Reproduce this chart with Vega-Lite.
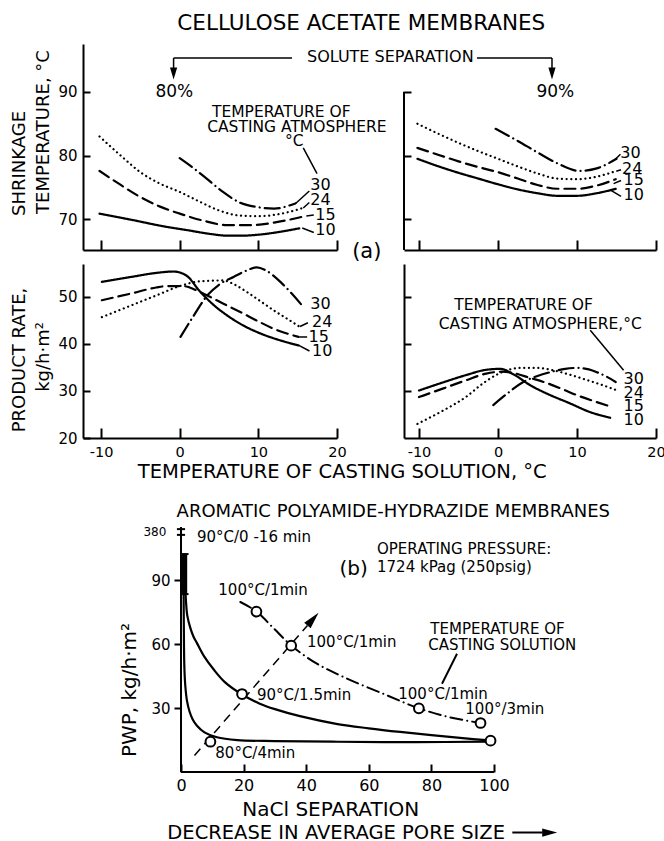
{
  "$schema": "https://vega.github.io/schema/vega-lite/v6.json",
  "background": "white",
  "padding": {"left": 11, "top": 12, "right": 0, "bottom": 0},
  "config": {
    "view": {"stroke": null},
    "font": "DejaVu Sans",
    "axis": {"grid": false, "domainColor": "black", "domainWidth": 2, "tickColor": "black", "tickWidth": 2, "labelColor": "black", "labelFont": "DejaVu Sans", "labelFontSize": 15, "labelFlush": false, "labelOverlap": false},
    "text": {"font": "DejaVu Sans", "color": "black"}
  },
  "datasets": {
    "sh80": [
      {"x": -10.2, "y": 70.9, "s": "10"}, {"x": -6, "y": 69.9, "s": "10"}, {"x": -2, "y": 68.9, "s": "10"}, {"x": 1, "y": 68.3, "s": "10"}, {"x": 4, "y": 67.7, "s": "10"}, {"x": 6, "y": 67.45, "s": "10"}, {"x": 8, "y": 67.45, "s": "10"}, {"x": 10, "y": 67.6, "s": "10"}, {"x": 12.5, "y": 68.0, "s": "10"}, {"x": 15.2, "y": 68.6, "s": "10"},
      {"x": -10.2, "y": 77.6, "s": "15"}, {"x": -7.5, "y": 75.4, "s": "15"}, {"x": -5, "y": 73.5, "s": "15"}, {"x": -2.5, "y": 72.0, "s": "15"}, {"x": 0, "y": 70.9, "s": "15"}, {"x": 3, "y": 69.8, "s": "15"}, {"x": 6, "y": 69.1, "s": "15"}, {"x": 9, "y": 69.1, "s": "15"}, {"x": 12, "y": 69.5, "s": "15"}, {"x": 14.5, "y": 70.1, "s": "15"}, {"x": 15.9, "y": 70.5, "s": "15"},
      {"x": -10.2, "y": 83.0, "s": "24"}, {"x": -7.5, "y": 80.0, "s": "24"}, {"x": -5, "y": 77.4, "s": "24"}, {"x": -2.5, "y": 75.6, "s": "24"}, {"x": 0, "y": 74.3, "s": "24"}, {"x": 2.5, "y": 72.8, "s": "24"}, {"x": 5, "y": 71.4, "s": "24"}, {"x": 7.6, "y": 70.6, "s": "24"}, {"x": 10, "y": 70.5, "s": "24"}, {"x": 12, "y": 70.7, "s": "24"}, {"x": 14, "y": 71.2, "s": "24"}, {"x": 15.7, "y": 71.8, "s": "24"},
      {"x": 0, "y": 79.6, "s": "30"}, {"x": 2, "y": 77.8, "s": "30"}, {"x": 3.5, "y": 76.3, "s": "30"}, {"x": 5.5, "y": 74.3, "s": "30"}, {"x": 7.7, "y": 72.6, "s": "30"}, {"x": 10, "y": 71.9, "s": "30"}, {"x": 12, "y": 71.7, "s": "30"}, {"x": 14.7, "y": 72.5, "s": "30"}
    ],
    "sh90": [
      {"x": -10.2, "y": 79.5, "s": "10"}, {"x": -7.5, "y": 78.3, "s": "10"}, {"x": -5, "y": 77.3, "s": "10"}, {"x": -2.5, "y": 76.4, "s": "10"}, {"x": 0, "y": 75.5, "s": "10"}, {"x": 2.5, "y": 74.7, "s": "10"}, {"x": 5, "y": 74.1, "s": "10"}, {"x": 7.5, "y": 73.7, "s": "10"}, {"x": 10, "y": 73.7, "s": "10"}, {"x": 12.5, "y": 74.1, "s": "10"}, {"x": 14.9, "y": 74.8, "s": "10"},
      {"x": -10.2, "y": 81.2, "s": "15"}, {"x": -7.5, "y": 80.1, "s": "15"}, {"x": -5, "y": 79.1, "s": "15"}, {"x": -2.5, "y": 78.2, "s": "15"}, {"x": 0, "y": 77.4, "s": "15"}, {"x": 2.5, "y": 76.4, "s": "15"}, {"x": 5, "y": 75.4, "s": "15"}, {"x": 7.5, "y": 74.8, "s": "15"}, {"x": 10, "y": 74.8, "s": "15"}, {"x": 12.5, "y": 75.3, "s": "15"}, {"x": 14.9, "y": 76.3, "s": "15"},
      {"x": -10.2, "y": 85.0, "s": "24"}, {"x": -7.5, "y": 83.4, "s": "24"}, {"x": -5, "y": 82.0, "s": "24"}, {"x": -2.5, "y": 80.7, "s": "24"}, {"x": 0, "y": 79.5, "s": "24"}, {"x": 2.5, "y": 78.3, "s": "24"}, {"x": 5, "y": 77.2, "s": "24"}, {"x": 7.5, "y": 76.4, "s": "24"}, {"x": 10, "y": 76.3, "s": "24"}, {"x": 12.5, "y": 76.7, "s": "24"}, {"x": 15, "y": 77.6, "s": "24"},
      {"x": -0.3, "y": 84.2, "s": "30"}, {"x": 2.5, "y": 82.3, "s": "30"}, {"x": 5, "y": 80.5, "s": "30"}, {"x": 7.5, "y": 78.8, "s": "30"}, {"x": 10.3, "y": 77.6, "s": "30"}, {"x": 12.5, "y": 78.0, "s": "30"}, {"x": 15.0, "y": 79.5, "s": "30"}
    ],
    "pr80": [
      {"x": -9.9, "y": 53.2, "s": "10"}, {"x": -6, "y": 54.3, "s": "10"}, {"x": -3, "y": 55.1, "s": "10"}, {"x": -0.8, "y": 55.4, "s": "10"}, {"x": 0.8, "y": 54.6, "s": "10"}, {"x": 2.6, "y": 51.1, "s": "10"}, {"x": 4.3, "y": 48.3, "s": "10"}, {"x": 6, "y": 46.1, "s": "10"}, {"x": 8, "y": 44.0, "s": "10"}, {"x": 10.3, "y": 42.2, "s": "10"}, {"x": 12.7, "y": 40.8, "s": "10"}, {"x": 15.1, "y": 39.7, "s": "10"},
      {"x": -9.9, "y": 49.3, "s": "15"}, {"x": -6, "y": 50.8, "s": "15"}, {"x": -3, "y": 52.0, "s": "15"}, {"x": -1.6, "y": 52.3, "s": "15"}, {"x": 0.5, "y": 52.3, "s": "15"}, {"x": 2, "y": 51.5, "s": "15"}, {"x": 3.5, "y": 50.3, "s": "15"}, {"x": 5.5, "y": 48.6, "s": "15"}, {"x": 7.7, "y": 46.8, "s": "15"}, {"x": 10, "y": 44.8, "s": "15"}, {"x": 12, "y": 43.2, "s": "15"}, {"x": 15.1, "y": 41.5, "s": "15"},
      {"x": -9.9, "y": 45.7, "s": "24"}, {"x": -6, "y": 48.3, "s": "24"}, {"x": -3, "y": 50.3, "s": "24"}, {"x": 0, "y": 52.3, "s": "24"}, {"x": 2.5, "y": 53.3, "s": "24"}, {"x": 5.5, "y": 53.5, "s": "24"}, {"x": 7, "y": 52.6, "s": "24"}, {"x": 8.5, "y": 51.1, "s": "24"}, {"x": 10, "y": 49.4, "s": "24"}, {"x": 12, "y": 47.1, "s": "24"}, {"x": 14, "y": 45.0, "s": "24"}, {"x": 15.3, "y": 43.6, "s": "24"},
      {"x": 0.1, "y": 41.5, "s": "30"}, {"x": 1.7, "y": 45.8, "s": "30"}, {"x": 3.5, "y": 50.3, "s": "30"}, {"x": 5, "y": 52.6, "s": "30"}, {"x": 6.9, "y": 54.3, "s": "30"}, {"x": 8.5, "y": 55.6, "s": "30"}, {"x": 9.8, "y": 56.3, "s": "30"}, {"x": 11, "y": 55.6, "s": "30"}, {"x": 12.8, "y": 53.2, "s": "30"}, {"x": 14.3, "y": 50.6, "s": "30"}, {"x": 15.7, "y": 47.9, "s": "30"}
    ],
    "pr90": [
      {"x": -10, "y": 30.1, "s": "10"}, {"x": -7, "y": 31.8, "s": "10"}, {"x": -4, "y": 33.4, "s": "10"}, {"x": -1.5, "y": 34.5, "s": "10"}, {"x": 0.3, "y": 34.7, "s": "10"}, {"x": 2, "y": 33.5, "s": "10"}, {"x": 4.1, "y": 31.2, "s": "10"}, {"x": 6.5, "y": 29.2, "s": "10"}, {"x": 9.2, "y": 27.3, "s": "10"}, {"x": 11.5, "y": 25.6, "s": "10"}, {"x": 14.2, "y": 24.3, "s": "10"},
      {"x": -10, "y": 28.7, "s": "15"}, {"x": -7, "y": 30.5, "s": "15"}, {"x": -4, "y": 32.3, "s": "15"}, {"x": -1.5, "y": 33.7, "s": "15"}, {"x": 0.5, "y": 34.1, "s": "15"}, {"x": 2, "y": 33.8, "s": "15"}, {"x": 4, "y": 32.8, "s": "15"}, {"x": 5.8, "y": 31.9, "s": "15"}, {"x": 8, "y": 30.5, "s": "15"}, {"x": 10, "y": 29.1, "s": "15"}, {"x": 12.2, "y": 27.8, "s": "15"}, {"x": 14.4, "y": 26.6, "s": "15"},
      {"x": -10.2, "y": 23.0, "s": "24"}, {"x": -7, "y": 25.8, "s": "24"}, {"x": -4, "y": 28.8, "s": "24"}, {"x": -2, "y": 31.5, "s": "24"}, {"x": 0, "y": 33.6, "s": "24"}, {"x": 2.8, "y": 34.9, "s": "24"}, {"x": 5, "y": 34.9, "s": "24"}, {"x": 7, "y": 34.4, "s": "24"}, {"x": 9, "y": 33.5, "s": "24"}, {"x": 11.3, "y": 32.3, "s": "24"}, {"x": 13.3, "y": 31.2, "s": "24"}, {"x": 15.1, "y": 30.1, "s": "24"},
      {"x": -0.6, "y": 27.0, "s": "30"}, {"x": 1.2, "y": 29.5, "s": "30"}, {"x": 3.2, "y": 31.9, "s": "30"}, {"x": 5, "y": 33.2, "s": "30"}, {"x": 6.6, "y": 34.0, "s": "30"}, {"x": 8.5, "y": 34.7, "s": "30"}, {"x": 10, "y": 34.9, "s": "30"}, {"x": 11.5, "y": 34.6, "s": "30"}, {"x": 12.5, "y": 34.0, "s": "30"}, {"x": 13.8, "y": 33.0, "s": "30"}, {"x": 14.9, "y": 31.9, "s": "30"}
    ],
    "tl_lab": [{"x": 16.61, "y": 75.35, "text": "30"}, {"x": 16.61, "y": 72.99, "text": "24"}, {"x": 17.24, "y": 70.74, "text": "15"}, {"x": 17.24, "y": 68.34, "text": "10"}],
    "tl_lead": [{"x": 14.7, "y": 72.46, "x2": 16.48, "y2": 74.45}, {"x": 15.71, "y": 71.79, "x2": 16.48, "y2": 72.65}, {"x": 16.1, "y": 70.53, "x2": 17.05, "y2": 70.69}, {"x": 15.58, "y": 68.65, "x2": 17.05, "y2": 67.94}, {"x": 15.71, "y": 81.2, "x2": 17.46, "y2": 77.16},
      {"x": -0.78, "y": 95.3, "x2": 14.28, "y2": 95.3}, {"x": 37.8, "y": 95.3, "x2": 47.34, "y2": 95.3}, {"x": -0.78, "y": 95.3, "x2": -0.78, "y2": 93.5}, {"x": 47.34, "y": 95.3, "x2": 47.34, "y2": 93.5}],
    "tl_ann": [{"x": 12.92, "y": 86.84, "text": "TEMPERATURE OF"}, {"x": 14.9, "y": 84.49, "text": "CASTING ATMOSPHERE"}, {"x": 14.57, "y": 82.29, "text": "°C"}],
    "tl_title": [{"x": 23.09, "y": 100.68, "text": "CELLULOSE  ACETATE  MEMBRANES"}],
    "tl_sol": [{"x": 26.78, "y": 95.54, "text": "SOLUTE SEPARATION"}],
    "tl_pct": [{"x": -0.69, "y": 89.97, "text": "80%"}, {"x": 47.76, "y": 89.97, "text": "90%"}],
    "tl_arr": [{"x": -0.78, "y": 92.87}, {"x": 47.34, "y": 92.87}],
    "tl_a": [{"x": 23.79, "y": 64.89, "text": "(a)"}],
    "tl_ytitle": [{"x": -20.27, "y": 70.53, "text": "SHRINKAGE"}, {"x": -17.22, "y": 70.85, "text": "TEMPERATURE, °C"}],
    "tr_lab": [{"x": 15.48, "y": 80.46, "text": "30"}, {"x": 15.7, "y": 77.95, "text": "24"}, {"x": 15.9, "y": 76.13, "text": "15"}, {"x": 15.9, "y": 73.78, "text": "10"}],
    "tr_lead": [{"x": 14.85, "y": 79.42, "x2": 15.5, "y2": 80.2}, {"x": 14.97, "y": 77.54, "x2": 15.57, "y2": 77.79}, {"x": 14.63, "y": 75.6, "x2": 15.57, "y2": 76.1}, {"x": 14.3, "y": 74.56, "x2": 15.57, "y2": 73.6}],
    "tr_axis": [{"x": -11.9, "y": 65.2, "x2": -11.9, "y2": 90}],
    "bl_lab": [{"x": 16.61, "y": 48.56, "text": "30"}, {"x": 16.82, "y": 44.67, "text": "24"}, {"x": 16.39, "y": 41.48, "text": "15"}, {"x": 16.82, "y": 38.44, "text": "10"}],
    "bl_lead": [{"x": 15.3, "y": 43.7, "x2": 16.3, "y2": 44.5}, {"x": 15.2, "y": 41.48, "x2": 16.2, "y2": 41.48}, {"x": 15.15, "y": 39.7, "x2": 16.5, "y2": 38.5}],
    "bl_xtitle": [{"x": 20.67, "y": 12.77, "text": "TEMPERATURE OF CASTING  SOLUTION, °C"}],
    "bl_ytitle": [{"x": -20.27, "y": 36.59, "text": "PRODUCT RATE,"}, {"x": -17.22, "y": 37.23, "text": "kg/h·m²"}],
    "br_lab": [{"x": 15.9, "y": 32.61, "text": "30"}, {"x": 15.9, "y": 29.57, "text": "24"}, {"x": 15.9, "y": 26.74, "text": "15"}, {"x": 15.9, "y": 23.77, "text": "10"}],
    "br_ann": [{"x": 3.24, "y": 48.22, "text": "TEMPERATURE OF"}, {"x": 5.35, "y": 44.31, "text": "CASTING ATMOSPHERE,°C"}],
    "br_lead": [{"x": 11.68, "y": 42.9, "x2": 15.9, "y2": 34.4}],
    "pwp_solid": [
      {"x": 0.95, "y": 102, "c": "upper"}, {"x": 1.1, "y": 95, "c": "upper"}, {"x": 1.35, "y": 87, "c": "upper"}, {"x": 1.6, "y": 80, "c": "upper"}, {"x": 2, "y": 73.5, "c": "upper"}, {"x": 3, "y": 67.5, "c": "upper"}, {"x": 4, "y": 63.5, "c": "upper"}, {"x": 5.1, "y": 60.5, "c": "upper"}, {"x": 7.5, "y": 54, "c": "upper"}, {"x": 10.4, "y": 48.2, "c": "upper"}, {"x": 14, "y": 42.2, "c": "upper"}, {"x": 19.5, "y": 36.4, "c": "upper"}, {"x": 25, "y": 32.2, "c": "upper"}, {"x": 30, "y": 29.5, "c": "upper"}, {"x": 38, "y": 26.2, "c": "upper"}, {"x": 50, "y": 22.5, "c": "upper"}, {"x": 60, "y": 20.5, "c": "upper"}, {"x": 70, "y": 18.8, "c": "upper"}, {"x": 80, "y": 17.3, "c": "upper"}, {"x": 90, "y": 15.9, "c": "upper"}, {"x": 98.5, "y": 14.8, "c": "upper"},
      {"x": 0.8, "y": 102, "c": "lower"}, {"x": 0.85, "y": 80, "c": "lower"}, {"x": 0.95, "y": 60, "c": "lower"}, {"x": 1.1, "y": 48, "c": "lower"}, {"x": 1.4, "y": 40, "c": "lower"}, {"x": 1.9, "y": 33.5, "c": "lower"}, {"x": 2.7, "y": 28.5, "c": "lower"}, {"x": 3.7, "y": 24.8, "c": "lower"}, {"x": 5.1, "y": 21.7, "c": "lower"}, {"x": 7.5, "y": 18.6, "c": "lower"}, {"x": 11.5, "y": 16.3, "c": "lower"}, {"x": 18, "y": 15.0, "c": "lower"}, {"x": 30, "y": 14.5, "c": "lower"}, {"x": 50, "y": 14.2, "c": "lower"}, {"x": 75, "y": 14.0, "c": "lower"}, {"x": 98.5, "y": 14.3, "c": "lower"}
    ],
    "pwp_dd": [{"x": 18.95, "y": 79.8}, {"x": 24.06, "y": 75.4}, {"x": 29.5, "y": 67.6}, {"x": 35.14, "y": 59.5}, {"x": 43, "y": 51.2}, {"x": 52.5, "y": 44.2}, {"x": 64.8, "y": 36.6}, {"x": 76, "y": 29.9}, {"x": 86.1, "y": 25.6}, {"x": 95.7, "y": 23.0}],
    "pwp_guide": [{"x": 4.3, "y": 7.7}, {"x": 40.4, "y": 68.8}],
    "pwp_head": [{"x": 42.17, "y": 71.77}],
    "pwp_pts": [{"x": 9.4, "y": 14.2}, {"x": 19.5, "y": 36.6}, {"x": 35.2, "y": 59.3}, {"x": 24.1, "y": 75.3}, {"x": 76.0, "y": 29.9}, {"x": 95.7, "y": 23.0}, {"x": 98.9, "y": 14.7}],
    "pwp_txt": [
      {"x": 5.11, "y": 110.3, "text": "90°C/0 -16 min"},
      {"x": 62.62, "y": 104.8, "text": "OPERATING PRESSURE:"},
      {"x": 62.62, "y": 96.2, "text": "1724 kPag (250psig)"},
      {"x": 11.92, "y": 85.4, "text": "100°C/1min"},
      {"x": 40.26, "y": 61.0, "text": "100°C/1min"},
      {"x": 24.28, "y": 36.0, "text": "90°C/1.5min"},
      {"x": 10.96, "y": 9.06, "text": "80°C/4min"},
      {"x": 69.42, "y": 36.75, "text": "100°C/1min"},
      {"x": 90.83, "y": 29.57, "text": "100°/3min"},
      {"x": 79.65, "y": 67.26, "text": "TEMPERATURE OF"},
      {"x": 79.01, "y": 59.61, "text": "CASTING SOLUTION"}
    ],
    "pwp_b": [{"x": 55.14, "y": 95.4, "text": "(b)"}],
    "pwp_380": [{"x": -4.7, "y": 112.65, "text": "380"}],
    "pwp_title": [{"x": 67.83, "y": 122.04, "text": "AROMATIC POLYAMIDE-HYDRAZIDE MEMBRANES"}],
    "pwp_ytitle": [{"x": -16.2, "y": 38.49, "text": "PWP, kg/h·m²"}],
    "pwp_xtitle": [{"x": 47.86, "y": -17.98, "text": "NaCl  SEPARATION"}],
    "pwp_xtitle2": [{"x": -4.38, "y": -28.4, "text": "DECREASE IN AVERAGE PORE SIZE"}],
    "pwp_rules": [
      {"x": 0, "y": 0, "x2": 0, "y2": 115},
      {"x": 0, "y": 0, "x2": 100, "y2": 0},
      {"x": -1.3, "y": 111.3, "x2": 1.3, "y2": 111.3},
      {"x": -1.3, "y": 114, "x2": 1.3, "y2": 114},
      {"x": -0.2, "y": 102.3, "x2": 2.4, "y2": 102.3},
      {"x": -0.2, "y": 83.5, "x2": 2.4, "y2": 83.5},
      {"x": 88.18, "y": 55.53, "x2": 83.39, "y2": 41.45},
      {"x": 105.85, "y": -28.4, "x2": 115.5, "y2": -28.4}
    ],
    "pwp_bar": [{"x": 1.1, "y": 83.5, "x2": 1.1, "y2": 102.3}],
    "pwp_arrow": [{"x": 117.8, "y": -28.4}]
  },
  "columns": 2,
  "spacing": {"row": 14, "column": -90},
  "align": "none",
  "bounds": "flush",
  "concat": [
    {
      "width": 254, "height": 206,
      "encoding": {
        "x": {"field": "x", "type": "quantitative", "scale": {"domain": [-12.3, 20], "nice": false, "zero": false}, "axis": {"title": null, "values": [-10, 0, 10, 20], "labels": false, "tickSize": -10}},
        "y": {"field": "y", "type": "quantitative", "scale": {"domain": [65.2, 97.5], "nice": false, "zero": false}, "axis": {"title": null, "values": [70, 80, 90], "tickSize": -7, "labelPadding": 13}}
      },
      "layer": [
        {"data": {"name": "sh80"}, "mark": {"type": "line", "interpolate": "monotone", "strokeWidth": 2.2, "strokeCap": "round", "color": "black"},
         "encoding": {"strokeDash": {"field": "s", "type": "nominal", "scale": {"domain": ["10", "15", "24", "30"], "range": [[1, 0], [11, 6], [0.1, 4.6], [15, 5, 0.1, 5]]}, "legend": null}}},
        {"data": {"name": "tl_lead"}, "mark": {"type": "rule", "strokeWidth": 1.5, "color": "black"}, "encoding": {"x2": {"field": "x2"}, "y2": {"field": "y2"}}},
        {"data": {"name": "tl_arr"}, "mark": {"type": "point", "shape": "M-0.6,-1L0.6,-1L0,1Z", "filled": true, "size": 144, "color": "black", "opacity": 1}},
        {"data": {"name": "tl_lab"}, "mark": {"type": "text", "align": "left", "baseline": "middle", "fontSize": 16}, "encoding": {"text": {"field": "text"}}},
        {"data": {"name": "tl_ann"}, "mark": {"type": "text", "align": "center", "baseline": "middle", "fontSize": 15.5}, "encoding": {"text": {"field": "text"}}},
        {"data": {"name": "tl_title"}, "mark": {"type": "text", "align": "center", "baseline": "middle", "fontSize": 21.5}, "encoding": {"text": {"field": "text"}}},
        {"data": {"name": "tl_sol"}, "mark": {"type": "text", "align": "center", "baseline": "middle", "fontSize": 16}, "encoding": {"text": {"field": "text"}}},
        {"data": {"name": "tl_pct"}, "mark": {"type": "text", "align": "center", "baseline": "middle", "fontSize": 17}, "encoding": {"text": {"field": "text"}}},
        {"data": {"name": "tl_a"}, "mark": {"type": "text", "align": "center", "baseline": "middle", "fontSize": 21}, "encoding": {"text": {"field": "text"}}},
        {"data": {"name": "tl_ytitle"}, "mark": {"type": "text", "align": "left", "baseline": "middle", "angle": 270, "fontSize": 18}, "encoding": {"text": {"field": "text"}}}
      ]
    },
    {
      "width": 252, "height": 206,
      "encoding": {
        "x": {"field": "x", "type": "quantitative", "scale": {"domain": [-11.9, 20], "nice": false, "zero": false}, "axis": {"title": null, "values": [-10, 0, 10, 20], "labels": false, "tickSize": -10}},
        "y": {"field": "y", "type": "quantitative", "scale": {"domain": [65.2, 97.5], "nice": false, "zero": false}, "axis": {"title": null, "values": [70, 80, 90], "labels": false, "domain": false, "tickSize": -7}}
      },
      "layer": [
        {"data": {"name": "sh90"}, "mark": {"type": "line", "interpolate": "monotone", "strokeWidth": 2.2, "strokeCap": "round", "color": "black"},
         "encoding": {"strokeDash": {"field": "s", "type": "nominal", "scale": {"domain": ["10", "15", "24", "30"], "range": [[1, 0], [11, 6], [0.1, 4.6], [15, 5, 0.1, 5]]}, "legend": null}}},
        {"data": {"name": "tr_axis"}, "mark": {"type": "rule", "strokeWidth": 2, "color": "black"}, "encoding": {"x2": {"field": "x2"}, "y2": {"field": "y2"}}},
        {"data": {"name": "tr_lead"}, "mark": {"type": "rule", "strokeWidth": 1.5, "color": "black"}, "encoding": {"x2": {"field": "x2"}, "y2": {"field": "y2"}}},
        {"data": {"name": "tr_lab"}, "mark": {"type": "text", "align": "left", "baseline": "middle", "fontSize": 16}, "encoding": {"text": {"field": "text"}}}
      ]
    },
    {
      "width": 254, "height": 174,
      "encoding": {
        "x": {"field": "x", "type": "quantitative", "scale": {"domain": [-12.3, 20], "nice": false, "zero": false}, "axis": {"title": null, "values": [-10, 0, 10, 20], "tickSize": -10, "labelPadding": 17, "labelFontSize": 14.5, "labelExpr": "datum.value < 0 ? '-' + abs(datum.value) : '' + datum.value"}},
        "y": {"field": "y", "type": "quantitative", "scale": {"domain": [20, 57], "nice": false, "zero": false}, "axis": {"title": null, "values": [20, 30, 40, 50], "tickSize": -7, "labelPadding": 13}}
      },
      "layer": [
        {"data": {"name": "pr80"}, "mark": {"type": "line", "interpolate": "monotone", "strokeWidth": 2.2, "strokeCap": "round", "color": "black"},
         "encoding": {"strokeDash": {"field": "s", "type": "nominal", "scale": {"domain": ["10", "15", "24", "30"], "range": [[1, 0], [11, 6], [0.1, 4.6], [15, 5, 0.1, 5]]}, "legend": null}}},
        {"data": {"name": "bl_lead"}, "mark": {"type": "rule", "strokeWidth": 1.5, "color": "black"}, "encoding": {"x2": {"field": "x2"}, "y2": {"field": "y2"}}},
        {"data": {"name": "bl_lab"}, "mark": {"type": "text", "align": "left", "baseline": "middle", "fontSize": 16}, "encoding": {"text": {"field": "text"}}},
        {"data": {"name": "bl_xtitle"}, "mark": {"type": "text", "align": "center", "baseline": "middle", "fontSize": 19.5}, "encoding": {"text": {"field": "text"}}},
        {"data": {"name": "bl_ytitle"}, "mark": {"type": "text", "align": "center", "baseline": "middle", "angle": 270, "fontSize": 18}, "encoding": {"text": {"field": "text"}}}
      ]
    },
    {
      "width": 252, "height": 174,
      "encoding": {
        "x": {"field": "x", "type": "quantitative", "scale": {"domain": [-11.9, 20], "nice": false, "zero": false}, "axis": {"title": null, "values": [-10, 0, 10, 20], "tickSize": -10, "labelPadding": 17, "labelFontSize": 14.5, "labelExpr": "datum.value < 0 ? '-' + abs(datum.value) : '' + datum.value"}},
        "y": {"field": "y", "type": "quantitative", "scale": {"domain": [20, 57], "nice": false, "zero": false}, "axis": {"title": null, "values": [30, 40, 50], "labels": false, "tickSize": -7}}
      },
      "layer": [
        {"data": {"name": "pr90"}, "mark": {"type": "line", "interpolate": "monotone", "strokeWidth": 2.2, "strokeCap": "round", "color": "black"},
         "encoding": {"strokeDash": {"field": "s", "type": "nominal", "scale": {"domain": ["10", "15", "24", "30"], "range": [[1, 0], [11, 6], [0.1, 4.6], [15, 5, 0.1, 5]]}, "legend": null}}},
        {"data": {"name": "br_lead"}, "mark": {"type": "rule", "strokeWidth": 1.5, "color": "black"}, "encoding": {"x2": {"field": "x2"}, "y2": {"field": "y2"}}},
        {"data": {"name": "br_lab"}, "mark": {"type": "text", "align": "left", "baseline": "middle", "fontSize": 16}, "encoding": {"text": {"field": "text"}}},
        {"data": {"name": "br_ann"}, "mark": {"type": "text", "align": "center", "baseline": "middle", "fontSize": 15.5}, "encoding": {"text": {"field": "text"}}}
      ]
    },
    {
      "width": 411, "height": 320,
      "encoding": {
        "x": {"field": "x", "type": "quantitative", "scale": {"domain": [-31.31, 100], "nice": false, "zero": false}, "axis": {"title": null, "values": [0, 20, 40, 60, 80, 100], "domain": false, "tickSize": -8, "labelPadding": 13, "labelFontSize": 16}},
        "y": {"field": "y", "type": "quantitative", "scale": {"domain": [0, 150.2], "nice": false, "zero": false}, "axis": {"title": null, "values": [30, 60, 90], "domain": false, "offset": -98, "tickSize": 7, "labelPadding": 4}}
      },
      "layer": [
        {"data": {"name": "pwp_rules"}, "mark": {"type": "rule", "strokeWidth": 2, "color": "black"}, "encoding": {"x2": {"field": "x2"}, "y2": {"field": "y2"}}},
        {"data": {"name": "pwp_bar"}, "mark": {"type": "rule", "strokeWidth": 5.5, "color": "black"}, "encoding": {"x2": {"field": "x2"}, "y2": {"field": "y2"}}},
        {"data": {"name": "pwp_solid"}, "mark": {"type": "line", "interpolate": "catmull-rom", "strokeWidth": 2.2, "color": "black"}, "encoding": {"detail": {"field": "c"}}},
        {"data": {"name": "pwp_dd"}, "mark": {"type": "line", "interpolate": "catmull-rom", "strokeWidth": 2, "strokeCap": "round", "strokeDash": [12, 5, 0.1, 5], "color": "black"}},
        {"data": {"name": "pwp_guide"}, "mark": {"type": "line", "strokeWidth": 1.5, "strokeDash": [9, 6], "color": "black"}},
        {"data": {"name": "pwp_head"}, "mark": {"type": "point", "shape": "M0,-1L0.5,1L-0.5,1Z", "angle": 41, "filled": true, "size": 289, "color": "black", "opacity": 1}},
        {"data": {"name": "pwp_arrow"}, "mark": {"type": "point", "shape": "M-1,-0.55L1,0L-1,0.55Z", "filled": true, "size": 225, "color": "black", "opacity": 1}},
        {"data": {"name": "pwp_pts"}, "mark": {"type": "point", "shape": "circle", "filled": true, "fill": "white", "stroke": "black", "strokeWidth": 2, "size": 95, "opacity": 1}},
        {"data": {"name": "pwp_txt"}, "mark": {"type": "text", "align": "left", "baseline": "middle", "fontSize": 15}, "encoding": {"text": {"field": "text"}}},
        {"data": {"name": "pwp_b"}, "mark": {"type": "text", "align": "center", "baseline": "middle", "fontSize": 20}, "encoding": {"text": {"field": "text"}}},
        {"data": {"name": "pwp_380"}, "mark": {"type": "text", "align": "right", "baseline": "middle", "fontSize": 12}, "encoding": {"text": {"field": "text"}}},
        {"data": {"name": "pwp_title"}, "mark": {"type": "text", "align": "center", "baseline": "middle", "fontSize": 18}, "encoding": {"text": {"field": "text"}}},
        {"data": {"name": "pwp_ytitle"}, "mark": {"type": "text", "align": "center", "baseline": "middle", "angle": 270, "fontSize": 20}, "encoding": {"text": {"field": "text"}}},
        {"data": {"name": "pwp_xtitle"}, "mark": {"type": "text", "align": "center", "baseline": "middle", "fontSize": 20}, "encoding": {"text": {"field": "text"}}},
        {"data": {"name": "pwp_xtitle2"}, "mark": {"type": "text", "align": "left", "baseline": "middle", "fontSize": 19.5}, "encoding": {"text": {"field": "text"}}}
      ]
    }
  ]
}
